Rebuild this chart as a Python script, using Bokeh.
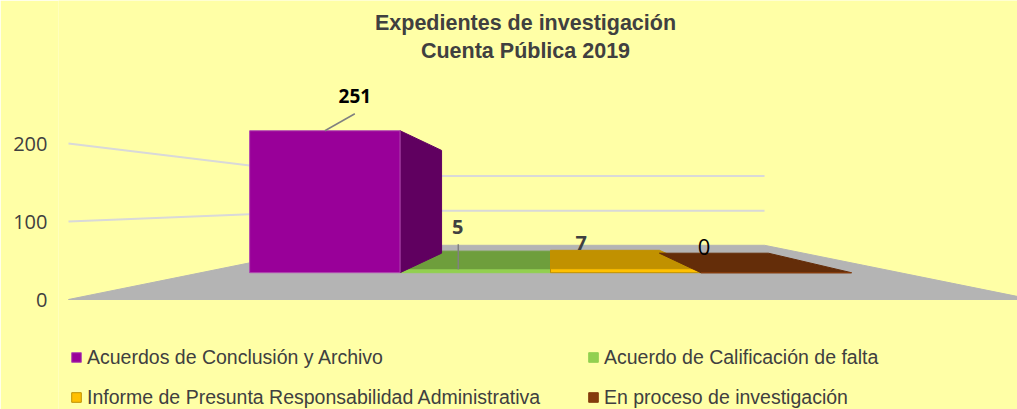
from bokeh.plotting import figure
from bokeh.models import Range1d, LinearAxis, FixedTicker, Legend, LegendItem, ColumnDataSource
from bokeh.embed import file_html
from bokeh.resources import INLINE
from bokeh.core.properties import value

# ---------------- data ----------------
title_lines = ["Expedientes de investigación", "Cuenta Pública 2019"]
categories = [
    "Acuerdos de Conclusión y Archivo",
    "Acuerdo de Calificación de falta",
    "Informe de Presunta Responsabilidad Administrativa",
    "En proceso de investigación",
]
values = [251, 5, 7, 0]
y_ticks = [0, 100, 200]
grid_values = [100, 200]

# ---------------- style ----------------
BG = "#FFFFA6"
base_colors = ["#990099", "#92D050", "#FFC000", "#843C0C"]
edge_colors = ["#B04AB0", "#92D050", "#BF9000", "#843C0C"]
TOP_SHADE, SIDE_SHADE = 0.76, 0.63
FLOOR = "#B4B4B4"
GRID = "#D9D9D9"
TXT = "#404040"
SANS = "Liberation Sans"

label_colors = ["#000000", TXT, TXT, "#000000"]
label_styles = ["bold", "bold", "bold", "normal"]
label_sizes = ["19px", "20px", "20px", "22px"]
label_dx = [30, -17.5, -44.5, -72]
label_dy = [-35, -43, -26, -26]
leaders = [(0, 0, 30, -17), (-17, -25.5, -17, -0.5), None, None]

# ---------------- layout of the pseudo-3D view ----------------
W, H = 1017, 409
LEFT = 58
PX_X = 207.5      # px per category unit on the front plane
PX_Y = 0.78       # px per value unit on the front plane
VPX = 2.0         # vanishing point (category units) = centre of the bar row
VPY = 125.0       # vanishing point height (value units)
S_WALL = 0.444    # depth scale of the back wall
S_BF, S_BB = 0.725, 0.525   # depth scale of the bars' front and back
FLOOR_HALF = 2.323

FRAME_L = LEFT              # canvas px of frame left
VP_SX = 550                 # canvas px of the vanishing point
FLOOR_SY = 299              # canvas px of the floor's front edge
x_start = VPX - (VP_SX - FRAME_L) / PX_X
x_end = x_start + (W - LEFT) / PX_X
y_end = FLOOR_SY / PX_Y
y_start = y_end - H / PX_Y


def proj(X, Y, s):
    return VPX + (X - VPX) * s, VPY + (Y - VPY) * s


def scr_x(px):
    return x_start + (px - FRAME_L) / PX_X


def scr_y(py):
    return y_end - py / PX_Y


def shade(hexc, f):
    r, g, b = (int(hexc[i:i + 2], 16) for i in (1, 3, 5))
    return "#%02x%02x%02x" % (int(r * f), int(g * f), int(b * f))


p = figure(width=W, height=H, x_range=Range1d(x_start, x_end), y_range=Range1d(y_start, y_end),
           output_backend="svg", toolbar_location=None, x_axis_type=None, y_axis_type=None,
           min_border_left=LEFT, min_border_right=0, min_border_top=0, min_border_bottom=0)
p.background_fill_color = BG
p.border_fill_color = BG
p.outline_line_color = None

yaxis = LinearAxis(ticker=FixedTicker(ticks=y_ticks))
yaxis.axis_line_color = None
yaxis.major_tick_line_color = None
yaxis.minor_tick_line_color = None
yaxis.major_tick_out = 0
yaxis.major_tick_in = 0
yaxis.major_label_standoff = 11
yaxis.major_label_text_font = "Open Sans"
yaxis.major_label_text_font_size = "20px"
yaxis.major_label_text_color = TXT
p.add_layout(yaxis, "left")

# floor
XL, XR = VPX - FLOOR_HALF, VPX + FLOOR_HALF
fl = [proj(XL, 0, 1), proj(XR, 0, 1), proj(XR, 0, S_WALL), proj(XL, 0, S_WALL)]
p.patch([q[0] for q in fl], [q[1] for q in fl], fill_color=FLOOR, line_color=FLOOR, line_width=1)

# gridlines on side and back walls
gx, gy = [], []
for v in grid_values:
    pts = [proj(XL, v, 1), proj(XL, v, S_WALL), proj(XR, v, S_WALL)]
    gx.append([q[0] for q in pts])
    gy.append([q[1] for q in pts])
p.multi_line(gx, gy, line_color=GRID, line_width=2)

# bars (painter's order: centre bars first)
fx, fy, fc, lc = [], [], [], []
front_row = {}
order = sorted(range(len(values)), key=lambda k: abs(k + 0.5 - VPX))
for i in order:
    v = values[i]
    xl, xr = i, i + 1
    side = xr if xr < VPX else (xl if xl > VPX else None)
    if side is not None and v > 0:
        pts = [proj(side, 0, S_BF), proj(side, 0, S_BB), proj(side, v, S_BB), proj(side, v, S_BF)]
        fx.append([q[0] for q in pts]); fy.append([q[1] for q in pts])
        c = shade(base_colors[i], SIDE_SHADE); fc.append(c); lc.append(c)
    if v <= VPY:
        pts = [proj(xl, v, S_BF), proj(xr, v, S_BF), proj(xr, v, S_BB), proj(xl, v, S_BB)]
        fx.append([q[0] for q in pts]); fy.append([q[1] for q in pts])
        c = shade(base_colors[i], TOP_SHADE); fc.append(c); lc.append(c)
    pts = [proj(xl, 0, S_BF), proj(xr, 0, S_BF), proj(xr, v, S_BF), proj(xl, v, S_BF)]
    fx.append([q[0] for q in pts]); fy.append([q[1] for q in pts])
    fc.append(base_colors[i]); lc.append(edge_colors[i])
    front_row[i] = len(fx) - 1

src = ColumnDataSource(dict(xs=fx, ys=fy, fill=fc, line=lc))
faces = p.patches("xs", "ys", source=src, fill_color="fill", line_color="line", line_width=1)

# data labels and leader lines
ax, ay = [], []
for i, v in enumerate(values):
    X, Y = proj(i + 0.5, v, S_BF)
    ax.append(X); ay.append(Y)
lsrc = ColumnDataSource(dict(x=ax, y=ay, text=[str(v) for v in values], xo=label_dx, yo=label_dy,
                             c=label_colors, fs=label_styles, sz=label_sizes))
sx0, sy0, sx1, sy1 = [], [], [], []
for i, ld in enumerate(leaders):
    if ld is None:
        continue
    sx0.append(ax[i] + ld[0] / PX_X); sy0.append(ay[i] - ld[1] / PX_Y)
    sx1.append(ax[i] + ld[2] / PX_X); sy1.append(ay[i] - ld[3] / PX_Y)
p.segment(sx0, sy0, sx1, sy1, line_color="#808080", line_width=1.5)
p.text(x="x", y="y", text="text", x_offset="xo", y_offset="yo", text_color="c",
       text_font_style="fs", text_font_size="sz", text_font=value("Open Sans"),
       text_align="center", text_baseline="middle", source=lsrc)

# title
p.text(x=[scr_x(525)] * 2, y=[scr_y(22), scr_y(50)], text=title_lines,
       text_font=value(SANS), text_font_style="bold", text_font_size="21.5px",
       text_color=TXT, text_align="center", text_baseline="middle")

# legends (two columns)
for col, idxs, lx in ((0, [0, 2], 70), (1, [1, 3], 587)):
    items = [LegendItem(label=categories[i], renderers=[faces], index=front_row[i]) for i in idxs]
    lg = Legend(items=items, location=(lx - FRAME_L, -2), orientation="vertical",
                glyph_width=12, glyph_height=12, label_standoff=5, padding=0, margin=0,
                spacing=12, label_height=28, label_text_font=SANS,
                label_text_font_size="19.5px", label_text_color=TXT,
                border_line_alpha=0, background_fill_alpha=0)
    p.add_layout(lg)

open("out.html", "w").write(file_html(p, INLINE))
